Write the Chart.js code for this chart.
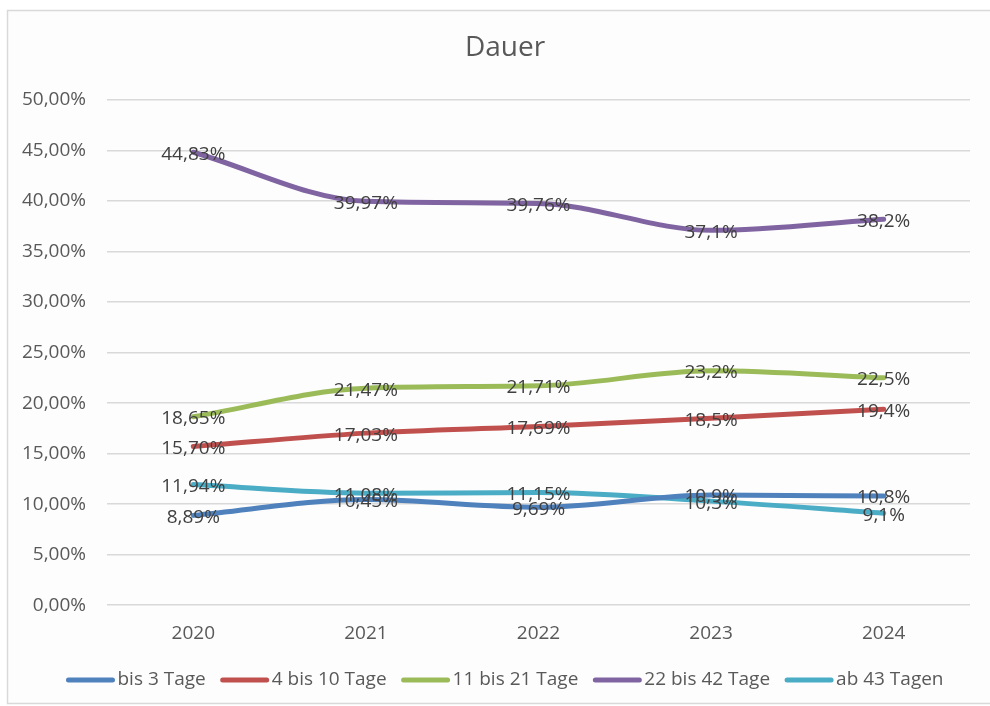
<!DOCTYPE html>
<html>
<head>
<meta charset="utf-8">
<script src="https://cdn.jsdelivr.net/npm/chart.js@4/dist/chart.umd.min.js"></script>
<style>
  html, body { margin: 0; padding: 0; background: #fff; }
  #wrap { position: relative; width: 990px; height: 706px; }
</style>
</head>
<body>
<div id="wrap"><canvas id="dauerChart" width="990" height="706"></canvas></div>
<script>
// Jahre und Anteile (in %) je Dauerklasse
const years = ["2020", "2021", "2022", "2023", "2024"];
const seriesNames = ["bis 3 Tage", "4 bis 10 Tage", "11 bis 21 Tage", "22 bis 42 Tage", "ab 43 Tagen"];
const bis3 = [8.89, 10.45, 9.69, 10.9, 10.8];
const bis10 = [15.70, 17.03, 17.69, 18.5, 19.4];
const bis21 = [18.65, 21.47, 21.71, 23.2, 22.5];
const bis42 = [44.83, 39.97, 39.76, 37.1, 38.2];
const ab43 = [11.94, 11.08, 11.15, 10.3, 9.1];
// Nachkommastellen der Beschriftung je Jahr
const labelDecimals = [2, 2, 2, 1, 1];
const yTicks = [0, 5, 10, 15, 20, 25, 30, 35, 40, 45, 50];

const colors = ["#4F81BD", "#C0504D", "#9BBB59", "#8064A2", "#4BACC6"];
const FONT = '"Open Sans", "Noto Sans", sans-serif';
const TEXT = "#595959";

const fmt = (v, d) => v.toFixed(d).replace(".", ",") + "%";

// Rahmen, Titel und Legende wie im Excel-Diagramm
const framePlugin = {
    id: "frame",
    beforeDraw(chart) {
        const c = chart.ctx;
        c.save();
        c.fillStyle = "#fdfdfd";
        c.fillRect(7, 10, 990, 694);
        c.strokeStyle = "#d9d9d9";
        c.lineWidth = 1.5;
        c.beginPath();
        c.moveTo(995, 10.5);
        c.lineTo(7.5, 10.5);
        c.lineTo(7.5, 703.5);
        c.lineTo(995, 703.5);
        c.stroke();

        // Titel
        c.fillStyle = TEXT;
        c.font = "28px " + FONT;
        c.textAlign = "center";
        c.textBaseline = "middle";
        c.fillText("Dauer", 505, 48);
        c.restore();
    },
    afterDraw(chart) {
        const c = chart.ctx;
        c.save();
        c.font = "19px " + FONT;
        c.textBaseline = "middle";
        c.textAlign = "left";
        const sw = 48, gapText = 3, gapItem = 15, y = 680;
        const items = chart.data.datasets.map(ds => ({
            text: ds.label, color: ds.borderColor, w: c.measureText(ds.label).width
        }));
        const total = items.reduce((s, it) => s + sw + gapText + it.w, 0) + gapItem * (items.length - 1);
        let x = 505 - total / 2;
        items.forEach(it => {
            c.strokeStyle = it.color;
            c.lineWidth = 5;
            c.lineCap = "round";
            c.beginPath();
            c.moveTo(x + 2, y);
            c.lineTo(x + sw - 2, y);
            c.stroke();
            c.fillStyle = TEXT;
            c.fillText(it.text, x + sw + gapText, y);
            x += sw + gapText + it.w + gapItem;
        });
        c.restore();
    }
};

// Datenbeschriftungen mittig auf den Punkten
const valueLabels = {
    id: "valueLabels",
    afterDatasetsDraw(chart) {
        const c = chart.ctx;
        c.save();
        c.font = "19px " + FONT;
        c.fillStyle = "#404040";
        c.textAlign = "center";
        c.textBaseline = "middle";
        chart.data.datasets.forEach((ds, i) => {
            chart.getDatasetMeta(i).data.forEach((pt, j) => {
                c.fillText(fmt(ds.data[j], labelDecimals[j]), pt.x, pt.y + 2);
            });
        });
        c.restore();
    }
};

const allSeries = [bis3, bis10, bis21, bis42, ab43];

new Chart(document.getElementById("dauerChart").getContext("2d"), {
    type: "line",
    data: {
        labels: years,
        datasets: allSeries.map((d, i) => ({
            label: seriesNames[i],
            data: d,
            borderColor: colors[i],
            backgroundColor: colors[i],
            borderWidth: 5,
            pointRadius: 0,
            cubicInterpolationMode: "monotone",
            borderCapStyle: "round"
        }))
    },
    options: {
        responsive: false,
        animation: false,
        layout: { padding: { left: 7, right: 20, top: 100, bottom: 44 } },
        plugins: {
            title: { display: false },
            legend: { display: false },
            tooltip: { enabled: false }
        },
        scales: {
            y: {
                min: 0,
                max: 50,
                afterBuildTicks: (s) => { s.ticks = yTicks.map(v => ({ value: v })); },
                afterFit: (s) => { s.width = 100; },
                ticks: {
                    color: TEXT,
                    font: { family: FONT, size: 19 },
                    padding: 21,
                    callback: (v) => fmt(v, 2)
                },
                grid: { color: "#d9d9d9", lineWidth: 1.5, drawTicks: false },
                border: { display: false }
            },
            x: {
                offset: true,
                ticks: {
                    color: TEXT,
                    font: { family: FONT, size: 19 },
                    padding: 17
                },
                grid: { display: false, drawTicks: false },
                border: { display: false }
            }
        }
    },
    plugins: [framePlugin, valueLabels]
});
</script>
</body>
</html>
